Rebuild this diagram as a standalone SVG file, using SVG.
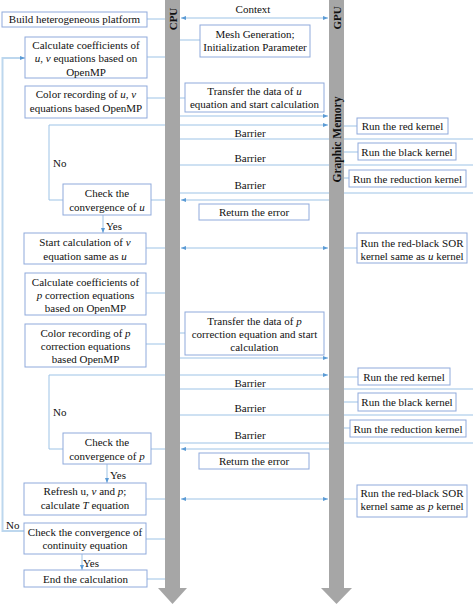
<svg xmlns="http://www.w3.org/2000/svg" width="474" height="605" viewBox="0 0 474 605">
<style>
.box{fill:#fff;stroke:#8faadc;stroke-width:1}
.ln{stroke:#9dc3e6;stroke-width:1;fill:none}
.lo{stroke:#bdd7ee;stroke-width:2;fill:none}
.t{font-family:"Liberation Serif","Times New Roman",serif;font-size:11px;fill:#111}
.c{text-anchor:middle}
.bar{fill:#a6a6a6}
.vt{font-family:"Liberation Serif","Times New Roman",serif;font-weight:bold;font-size:11px;text-anchor:middle;fill:#111}
.i{font-style:italic}
</style>
<defs>
<marker id="ah" markerUnits="userSpaceOnUse" markerWidth="5" markerHeight="4" refX="5" refY="2" orient="auto-start-reverse">
<path d="M0,0 L5,2 L0,4 z" fill="#5b9bd5"/>
</marker>
</defs>
<rect width="474" height="605" fill="#fff"/>
<g id="connectors">
<path class="ln" d="M147,19 H165"/>
<path class="lo" d="M24,531 H2.5 V58 H25" marker-end="url(#ah)"/>
<path class="ln" d="M147,57 H165"/>
<path class="ln" d="M147,98 H165"/>
<path class="ln" d="M180,40 H200"/>
<path class="ln" d="M180,98 H185"/>
<path class="ln" d="M181,18 H328" marker-start="url(#ah)" marker-end="url(#ah)"/>
<path class="ln" d="M180,116 H328" marker-end="url(#ah)"/>
<path class="ln" d="M63,200 H49 V125 H328" marker-end="url(#ah)"/>
<path class="ln" d="M344,126 H357"/>
<path class="ln" d="M180,139 H473"/>
<path class="ln" d="M180,165 H473"/>
<path class="ln" d="M180,193 H473"/>
<path class="ln" d="M344,152 H358"/>
<path class="ln" d="M344,178 H349"/>
<path class="ln" d="M329,200 H181" marker-end="url(#ah)"/>
<path class="ln" d="M151,200 H165"/>
<path class="ln" d="M103,215 V233" marker-end="url(#ah)"/>
<path class="ln" d="M146,248 H165"/>
<path class="ln" d="M181,248 H328" marker-start="url(#ah)" marker-end="url(#ah)"/>
<path class="ln" d="M344,248 H357"/>
<path class="ln" d="M146,293 H165"/>
<path class="ln" d="M146,344 H165"/>
<path class="ln" d="M180,333 H185"/>
<path class="ln" d="M180,358 H328" marker-end="url(#ah)"/>
<path class="ln" d="M63,449 H49 V375 H328" marker-end="url(#ah)"/>
<path class="ln" d="M344,377 H358"/>
<path class="ln" d="M180,389 H473"/>
<path class="ln" d="M180,415 H473"/>
<path class="ln" d="M180,443 H473"/>
<path class="ln" d="M344,402 H358"/>
<path class="ln" d="M344,428 H350"/>
<path class="ln" d="M329,449 H181" marker-end="url(#ah)"/>
<path class="ln" d="M151,449 H165"/>
<path class="ln" d="M107,464 V483" marker-end="url(#ah)"/>
<path class="ln" d="M146,499 H165"/>
<path class="ln" d="M181,499 H328" marker-start="url(#ah)" marker-end="url(#ah)"/>
<path class="ln" d="M344,499 H357"/>
<path class="ln" d="M146,539 H165"/>
<path class="ln" d="M82,554 V570" marker-end="url(#ah)"/>
<path class="ln" d="M147,579 H165"/>
</g>
<g id="cpu-bar">
<path class="bar" d="M165,0 H180 V588 H187 L172.5,604 L158,588 H165 Z"/>
<text class="vt" transform="translate(176.5,19) rotate(-90)">CPU</text>
</g>
<g id="gpu-bar">
<path class="bar" d="M329,0 H344 V588 H352 L336.5,604 L321,588 H329 Z"/>
<text class="vt" transform="translate(340.5,18) rotate(-90)">GPU</text>
<text class="vt" style="font-size:11.5px" transform="translate(340.5,139.5) rotate(-90)">Graphic Memory</text>
</g>
<g id="labels">
<text class="t c" x="253" y="13">Context</text>
<text class="t c" x="250" y="136.5">Barrier</text>
<text class="t c" x="250" y="161.5">Barrier</text>
<text class="t c" x="250" y="188.5">Barrier</text>
<text class="t c" x="250" y="387">Barrier</text>
<text class="t c" x="250" y="412">Barrier</text>
<text class="t c" x="250" y="439">Barrier</text>
<text class="t" x="53" y="167">No</text>
<text class="t" x="106" y="230">Yes</text>
<text class="t" x="53" y="416">No</text>
<text class="t" x="110" y="479">Yes</text>
<text class="t" x="6" y="529">No</text>
<text class="t" x="83" y="567">Yes</text>
</g>
<g id="build">
<rect class="box" x="2" y="12" width="145" height="15"/>
<text class="t c" x="74.5" y="23">Build heterogeneous platform</text>
</g>
<g id="coef-uv">
<rect class="box" x="25" y="37" width="122" height="41"/>
<text class="t c" x="86" y="48.5">Calculate coefficients of</text>
<text class="t c" x="86" y="62"><tspan class="i">u</tspan>, <tspan class="i">v</tspan> equations based on</text>
<text class="t c" x="86" y="75.5">OpenMP</text>
</g>
<g id="color-uv">
<rect class="box" x="25" y="86" width="122" height="32"/>
<text class="t c" x="86" y="98">Color recording of <tspan class="i">u</tspan>, <tspan class="i">v</tspan></text>
<text class="t c" x="86" y="112">equations based OpenMP</text>
</g>
<g id="mesh">
<rect class="box" x="200" y="25" width="110" height="32"/>
<text class="t c" x="255" y="37.5">Mesh Generation;</text>
<text class="t c" x="255" y="51">Initialization Parameter</text>
</g>
<g id="transfer-u">
<rect class="box" x="185" y="83" width="139" height="29"/>
<text class="t c" x="254.5" y="94.5">Transfer the data of <tspan class="i">u</tspan></text>
<text class="t c" x="254.5" y="108">equation and start calculation</text>
</g>
<g id="red-u">
<rect class="box" x="357" y="118" width="91" height="16"/>
<text class="t c" x="402.5" y="130">Run the red kernel</text>
</g>
<g id="black-u">
<rect class="box" x="358" y="143" width="98" height="17"/>
<text class="t c" x="407" y="155.5">Run the black kernel</text>
</g>
<g id="reduction-u">
<rect class="box" x="349" y="170" width="117" height="17"/>
<text class="t c" x="407.5" y="182.5">Run the reduction kernel</text>
</g>
<g id="check-u">
<rect class="box" x="63" y="184" width="88" height="31"/>
<text class="t c" x="107" y="197">Check the</text>
<text class="t c" x="107" y="211">convergence of <tspan class="i">u</tspan></text>
</g>
<g id="error-u">
<rect class="box" x="199" y="204" width="110" height="16"/>
<text class="t c" x="254" y="216">Return the error</text>
</g>
<g id="start-v">
<rect class="box" x="24" y="233" width="122" height="31"/>
<text class="t c" x="85" y="246">Start calculation of <tspan class="i">v</tspan></text>
<text class="t c" x="85" y="259.5">equation same as <tspan class="i">u</tspan></text>
</g>
<g id="sor-u">
<rect class="box" x="357" y="233" width="110" height="30"/>
<text class="t c" x="412" y="246.5">Run the red-black SOR</text>
<text class="t c" x="412" y="259.5">kernel same as <tspan class="i">u</tspan> kernel</text>
</g>
<g id="coef-p">
<rect class="box" x="25" y="273" width="121" height="42"/>
<text class="t c" x="85.5" y="286">Calculate coefficients of</text>
<text class="t c" x="85.5" y="299"><tspan class="i">p</tspan> correction equations</text>
<text class="t c" x="85.5" y="312">based on OpenMP</text>
</g>
<g id="color-p">
<rect class="box" x="25" y="324" width="121" height="43"/>
<text class="t c" x="85.5" y="337">Color recording of <tspan class="i">p</tspan></text>
<text class="t c" x="85.5" y="350">correction equations</text>
<text class="t c" x="85.5" y="363">based OpenMP</text>
</g>
<g id="transfer-p">
<rect class="box" x="185" y="312" width="139" height="43"/>
<text class="t c" x="254.5" y="325">Transfer the data of <tspan class="i">p</tspan></text>
<text class="t c" x="254.5" y="338">correction equation and start</text>
<text class="t c" x="254.5" y="351">calculation</text>
</g>
<g id="red-p">
<rect class="box" x="358" y="368" width="92" height="17"/>
<text class="t c" x="404" y="380.5">Run the red kernel</text>
</g>
<g id="black-p">
<rect class="box" x="358" y="393" width="98" height="18"/>
<text class="t c" x="407" y="406">Run the black kernel</text>
</g>
<g id="reduction-p">
<rect class="box" x="350" y="420" width="116" height="17"/>
<text class="t c" x="408" y="432.5">Run the reduction kernel</text>
</g>
<g id="check-p">
<rect class="box" x="63" y="433" width="88" height="31"/>
<text class="t c" x="107" y="446">Check the</text>
<text class="t c" x="107" y="460">convergence of <tspan class="i">p</tspan></text>
</g>
<g id="error-p">
<rect class="box" x="199" y="453" width="110" height="16"/>
<text class="t c" x="254" y="465">Return the error</text>
</g>
<g id="refresh">
<rect class="box" x="24" y="483" width="122" height="32"/>
<text class="t c" x="85" y="495">Refresh u, <tspan class="i">v</tspan> and <tspan class="i">p</tspan>;</text>
<text class="t c" x="85" y="508.5">calculate <tspan class="i">T</tspan> equation</text>
</g>
<g id="sor-p">
<rect class="box" x="357" y="485" width="110" height="32"/>
<text class="t c" x="412" y="497">Run the red-black SOR</text>
<text class="t c" x="412" y="510">kernel same as <tspan class="i">p</tspan> kernel</text>
</g>
<g id="check-continuity">
<rect class="box" x="24" y="523" width="122" height="31"/>
<text class="t c" x="85" y="535.5">Check the convergence of</text>
<text class="t c" x="85" y="549">continuity equation</text>
</g>
<g id="end">
<rect class="box" x="24" y="570" width="123" height="17"/>
<text class="t c" x="85.5" y="582.5">End the calculation</text>
</g>
</svg>
